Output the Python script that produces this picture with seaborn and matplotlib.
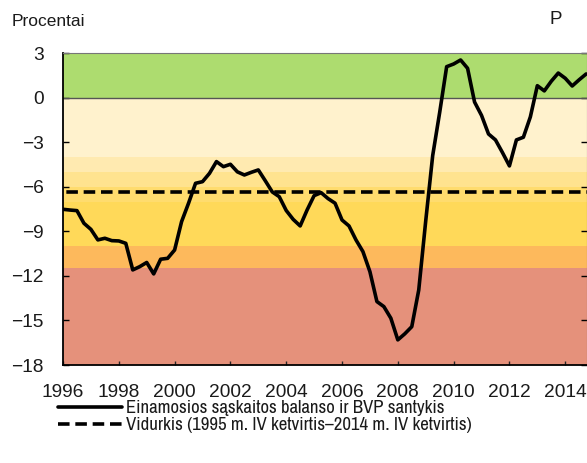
import numpy as np
import pandas as pd
import matplotlib
matplotlib.use("Agg")
import matplotlib.pyplot as plt
import seaborn as sns

# ---- data (quarterly, 1996Q1 .. 2014Q4) ----
years_start = 1996.0
ratio_values = [
    -7.52, -7.57, -7.61, -8.46, -8.87, -9.58, -9.47, -9.63, -9.65, -9.81,
    -11.60, -11.38, -11.10, -11.87, -10.88, -10.82, -10.26, -8.35, -7.11, -5.77,
    -5.66, -5.10, -4.31, -4.65, -4.49, -5.00, -5.21, -5.03, -4.87, -5.60,
    -6.35, -6.67, -7.60, -8.20, -8.64, -7.56, -6.60, -6.40, -6.80, -7.11,
    -8.24, -8.64, -9.58, -10.37, -11.72, -13.73, -14.07, -14.85, -16.31, -15.90,
    -15.42, -12.95, -8.30, -3.90, -1.00, 2.08, 2.26, 2.53, 1.97, -0.30,
    -1.20, -2.45, -2.85, -3.70, -4.60, -2.85, -2.67, -1.30, 0.80, 0.45,
    1.10, 1.65, 1.30, 0.78, 1.20, 1.59,
]
mean_value = -6.37
y_ticks = [3, 0, -3, -6, -9, -12, -15, -18]
x_ticks = [1996, 1998, 2000, 2002, 2004, 2006, 2008, 2010, 2012, 2014]
band_edges = [3, 0, -4, -5, -6, -7, -10, -11.5, -18]
band_colors = ["#addc6f", "#fff2cd", "#ffeab0", "#ffe38f", "#ffdc6e",
               "#ffd959", "#fdb95c", "#e5917b"]
series_label = "Einamosios sąskaitos balanso ir BVP santykis"
mean_label = "Vidurkis (1995 m. IV ketvirtis–2014 m. IV ketvirtis)"
y_title = "Procentai"
corner_mark = "P"

time = [years_start + 0.25 * i for i in range(len(ratio_values))]
df = pd.DataFrame({"t": time, "v": ratio_values})
df_mean = pd.DataFrame({"t": [1995.5, 2015.5], "v": [mean_value, mean_value]})

sns.set_theme(style="white")
plt.rcParams["font.family"] = ["Liberation Sans", "DejaVu Sans"]
plt.rcParams["axes.unicode_minus"] = True
NARROW = ["Archivo Narrow", "Liberation Sans", "DejaVu Sans"]

TICK_FS = 13.8
LEG_FS = 13.5
W, H = 587, 463
fig = plt.figure(figsize=(W / 100, H / 100), dpi=100)
ax = fig.add_axes([63 / W, 1 - 365 / H, (587 - 63) / W, (365 - 53) / H])

for (top, bot), c in zip(zip(band_edges[:-1], band_edges[1:]), band_colors):
    ax.axhspan(bot, top, color=c, lw=0, zorder=0)
ax.axhline(0, color="#555555", lw=1.0, zorder=1)

sns.lineplot(data=df, x="t", y="v", ax=ax, color="black", lw=2.6,
             label=series_label, zorder=3)
sns.lineplot(data=df_mean, x="t", y="v", ax=ax, color="black", lw=2.6,
             label=mean_label, zorder=2, dashes=False)
ax.lines[-1].set_dashes([3.2, 1.6])

ax.set_xlim(1996.0, 2014.78)
ax.set_ylim(-18, 3)
ax.set_xticks(x_ticks)
ax.set_yticks(y_ticks)
ax.set_yticklabels([str(v).replace("-", "\u2212") for v in y_ticks])
ax.set_xlabel("")
ax.set_ylabel("")

for s in ["left", "bottom"]:
    ax.spines[s].set_color("black")
    ax.spines[s].set_linewidth(1.3)
for s in ["top", "right"]:
    ax.spines[s].set_color("#777777")
    ax.spines[s].set_linewidth(0.8)

ax.tick_params(axis="y", which="both", left=True, right=True, direction="in",
               length=4, width=1, colors="black", labelsize=TICK_FS, pad=14)
ax.tick_params(axis="x", bottom=True, direction="in", length=3, width=1,
               labelsize=TICK_FS, pad=13.5)
for t in ax.get_yticklabels() + ax.get_xticklabels():
    t.set_color("#1a1a1a")

fig.text(12 / W, 1 - 22 / H, y_title, fontsize=12.5, va="center", ha="left",
         color="#1a1a1a")
fig.text(556 / W, 1 - 19 / H, corner_mark, fontsize=13.5, va="center", ha="center",
         color="#1a1a1a")

leg = ax.legend(loc="upper left", bbox_to_anchor=(58 / W, 1 - 400 / H),
                bbox_transform=fig.transFigure, frameon=False,
                prop={"family": NARROW, "size": LEG_FS},
                handlelength=3.4, handletextpad=0.25, labelspacing=0.05,
                borderpad=0, borderaxespad=0)
for t in leg.get_texts():
    t.set_color("#1a1a1a")

fig.savefig("out.png", dpi=100)
